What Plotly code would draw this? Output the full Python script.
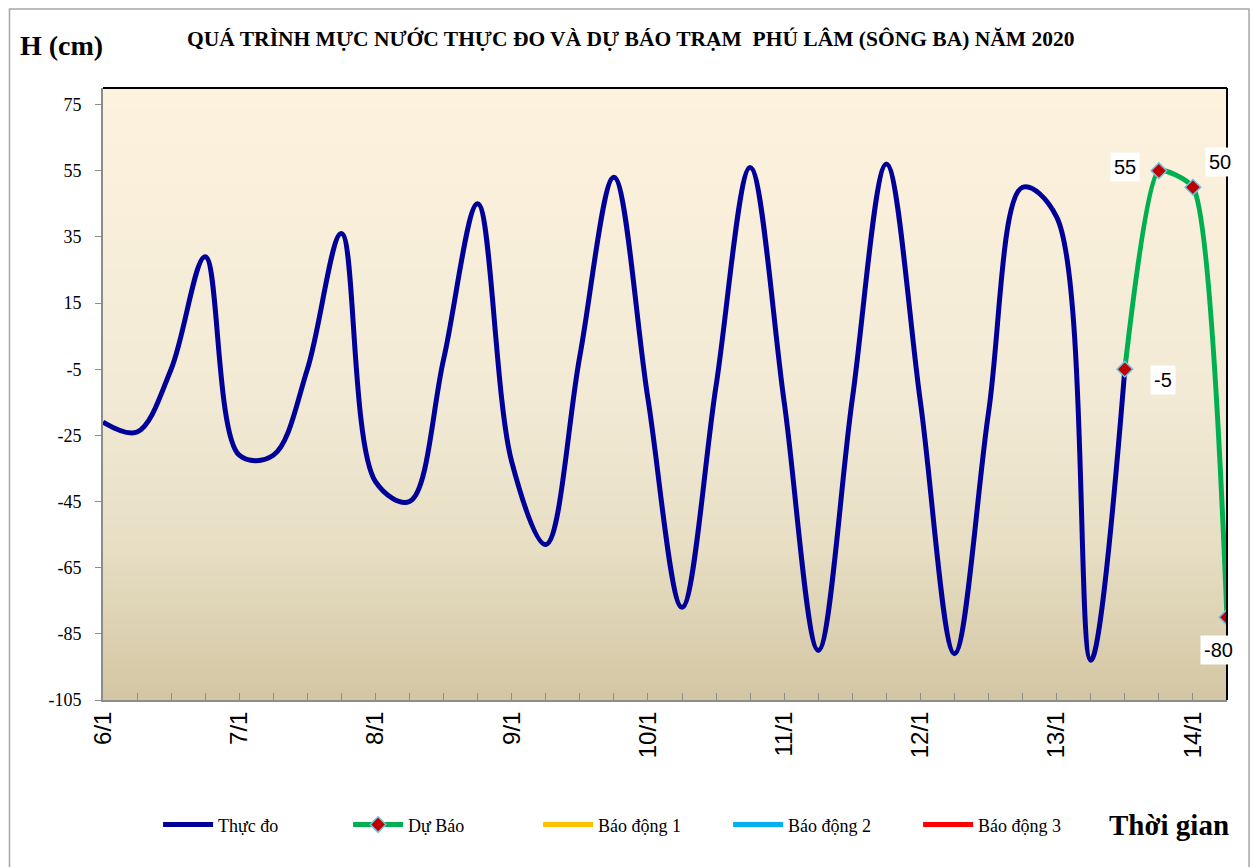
import pandas as pd
import plotly.graph_objects as go

# ---------------- data ----------------
times = pd.date_range("2020-01-06 00:00", periods=34, freq="6h")

observed = [-21, -24, -5, 29, -31, -31, -5, 36,
            -39, -45, -2, 45, -33, -58, -1, 53,
            -14, -77, -10, 56, -15, -90, -14, 57,
            -15, -91, -18, 50, 41, -93, -5,
            None, None, None]

forecast = [None] * 30 + [-5, 55, 50, -80]

y_ticks = [-105, -85, -65, -45, -25, -5, 15, 35, 55, 75]

forecast_label_shift = {30: (38, -11), 31: (-34, 4), 32: (27, 25), 33: (-9, -33)}

alarm_names = ["Báo động 1", "Báo động 2", "Báo động 3"]
alarm_colors = ["#FFC000", "#00B0F0", "#FF0000"]

title_text = "QUÁ TRÌNH MỰC NƯỚC THỰC ĐO VÀ DỰ BÁO TRẠM  PHÚ LÂM (SÔNG BA) NĂM 2020"

SERIF = "Liberation Serif, Times New Roman, serif"
SANS = "Liberation Sans, Arial, sans-serif"

fig = go.Figure()

fig.add_trace(go.Scatter(
    x=times, y=observed, name="Thực đo", mode="lines",
    line=dict(color="#000099", width=5, shape="spline", smoothing=1.0),
    connectgaps=False,
))
fig.add_trace(go.Scatter(
    x=times, y=forecast, name="Dự Báo", mode="lines+markers",
    line=dict(color="#00B050", width=5, shape="spline", smoothing=0.55),
    marker=dict(symbol="diamond", size=12, color="#C00000",
                line=dict(color="#6FC3E0", width=1.5)),
))
for nm, col in zip(alarm_names, alarm_colors):
    fig.add_trace(go.Scatter(x=[None], y=[None], name=nm, mode="lines",
                             line=dict(color=col, width=5)))

# data labels for forecast points
for i, v in enumerate(forecast):
    if v is None:
        continue
    dx, dy = forecast_label_shift[i]
    fig.add_annotation(x=times[i], y=v, xref="x", yref="y", text=str(v),
                       showarrow=False, xshift=dx, yshift=dy,
                       bgcolor="white", borderpad=3,
                       font=dict(family=SANS, size=20, color="black"))

# gradient background bands
stops = [(0.0, (253, 242, 222)), (0.5, (242, 234, 213)),
         (0.75, (231, 222, 196)), (1.0, (211, 198, 163))]

def col_at(t):
    for (t0, c0), (t1, c1) in zip(stops[:-1], stops[1:]):
        if t0 <= t <= t1:
            f = (t - t0) / (t1 - t0)
            return "rgb(%d,%d,%d)" % tuple(round(a + (b - a) * f) for a, b in zip(c0, c1))
    return "rgb(%d,%d,%d)" % stops[-1][1]

shapes = []
N = 120
for k in range(N):
    t = (k + 0.5) / N  # from top
    shapes.append(dict(type="rect", xref="x domain", yref="y domain",
                       x0=0, x1=1, y0=1 - (k + 1) / N - 0.002, y1=1 - k / N,
                       fillcolor=col_at(t), line=dict(width=0), layer="below"))
# plot border top & right
shapes.append(dict(type="line", xref="x domain", yref="y domain", x0=0, x1=1, y0=1, y1=1,
                   line=dict(color="black", width=2)))
shapes.append(dict(type="line", xref="x domain", yref="y domain", x0=1, x1=1, y0=0, y1=1,
                   line=dict(color="black", width=2)))
# outer chart border
shapes.append(dict(type="rect", xref="paper", yref="paper",
                   x0=-0.0832, x1=1.0196, y0=-0.30, y1=1.1290,
                   line=dict(color="#A6A6A6", width=1.5), fillcolor="rgba(0,0,0,0)"))

fig.update_layout(
    width=1251, height=859, autosize=False,
    margin=dict(l=95, r=32, t=80, b=167),
    paper_bgcolor="white", plot_bgcolor="#F3EAD6",
    shapes=shapes,
    showlegend=True,
    legend=dict(orientation="h", x=0.049, y=-0.204, xanchor="left", yanchor="middle",
                font=dict(family=SERIF, size=18, color="black"),
                entrywidth=125, entrywidthmode="pixels",
                itemwidth=50, bgcolor="rgba(0,0,0,0)"),
    xaxis=dict(
        type="date",
        range=[times[0], times[-1]],
        tick0=times[0], dtick=86400000, tickformat="%-d/%-m",
        tickangle=-90, ticks="inside", ticklen=7, tickcolor="#8C8C8C",
        minor=dict(dtick=21600000, ticks="inside", ticklen=7, tickcolor="#8C8C8C"),
        showline=True, linecolor="#8C8C8C", linewidth=2,
        showgrid=False, zeroline=False,
        tickfont=dict(family=SANS, size=24, color="black"),
        ticklabelstandoff=0,
    ),
    yaxis=dict(
        range=[-105, 80],
        tickmode="array", tickvals=y_ticks, ticktext=[str(v) for v in y_ticks],
        ticks="outside", ticklen=6, tickcolor="#8C8C8C",
        showline=True, linecolor="#8C8C8C", linewidth=2,
        showgrid=False, zeroline=False,
        tickfont=dict(family=SERIF, size=18, color="black"),
        ticklabelstandoff=10,
    ),
)

fig.add_annotation(text="<b>H (cm)</b>", xref="paper", yref="paper",
                   x=-0.0365, y=1.070, showarrow=False,
                   xanchor="center", yanchor="middle",
                   font=dict(family=SERIF, size=28, color="black"))
fig.add_annotation(text="<b>" + title_text + "</b>", xref="paper", yref="paper",
                   x=0.469, y=1.080, showarrow=False,
                   xanchor="center", yanchor="middle",
                   font=dict(family=SERIF, size=21.5, color="black"))
fig.add_annotation(text="<b>Thời gian</b>", xref="paper", yref="paper",
                   x=0.948, y=-0.204, showarrow=False,
                   xanchor="center", yanchor="middle",
                   font=dict(family=SERIF, size=29, color="black"))

fig.write_html("out.html")
